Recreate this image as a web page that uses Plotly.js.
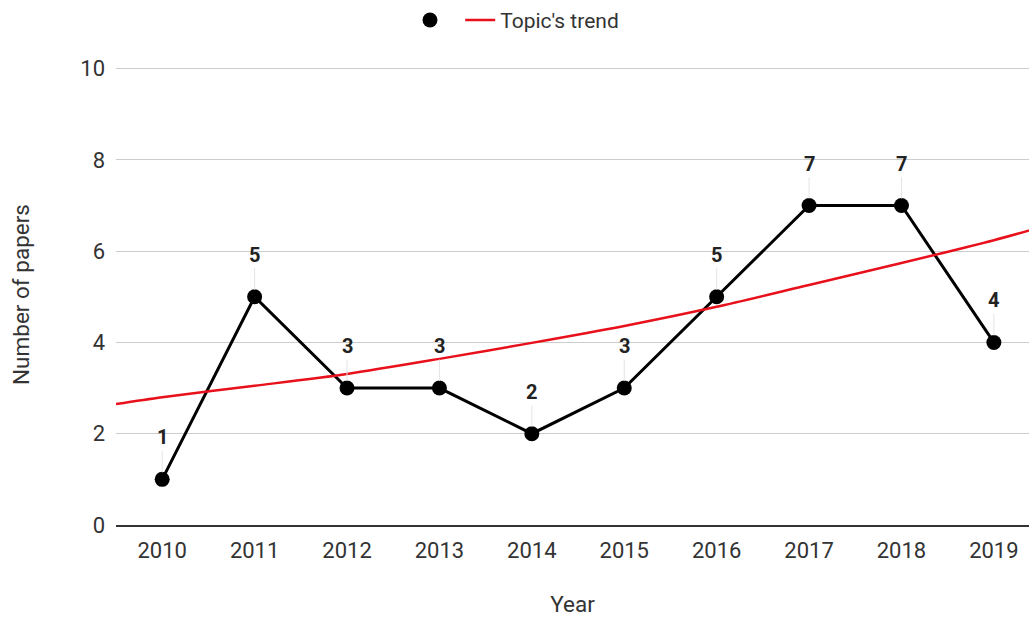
<!DOCTYPE html>
<html>
<head>
<meta charset="utf-8">
<script src="https://cdn.plot.ly/plotly-3.0.1.min.js"></script>
<style>
  html, body { margin: 0; padding: 0; background: #fff; }
  #chart { width: 1029px; height: 617px; }
</style>
</head>
<body>
<div id="chart"></div>
<script>
// Data
const years = [2010, 2011, 2012, 2013, 2014, 2015, 2016, 2017, 2018, 2019];
const papers = [1, 5, 3, 3, 2, 3, 5, 7, 7, 4];

// Trend line values (including the plot edges)
const trendYears = [2009.5, 2010, 2011, 2012, 2013, 2014, 2015, 2016, 2017, 2018, 2019, 2019.5];
const trendValues = [2.65, 2.80, 3.05, 3.31, 3.64, 3.99, 4.36, 4.78, 5.26, 5.74, 6.24, 6.52];

const yTicks = [0, 2, 4, 6, 8, 10];
const trendName = "Topic's trend";
const xTitle = 'Year';
const yTitle = 'Number of papers';

const FONT = 'Roboto, Arial, sans-serif';

const traces = [
  {
    x: years, y: papers, type: 'scatter', mode: 'lines',
    line: { color: '#000000', width: 3 },
    showlegend: false, hoverinfo: 'skip'
  },
  {
    x: years, y: papers, type: 'scatter', mode: 'markers',
    name: ' ',
    marker: { color: '#000000', size: 15 },
    showlegend: true
  },
  {
    x: trendYears, y: trendValues, type: 'scatter', mode: 'lines',
    name: trendName,
    line: { color: '#e8101a', width: 2.5, shape: 'spline', smoothing: 0.8 },
    showlegend: true
  }
];

const annotations = years.map((yr, i) => ({
  x: yr, y: papers[i], xref: 'x', yref: 'y',
  text: '<b>' + papers[i] + '</b>',
  showarrow: true, arrowhead: 0, arrowwidth: 1, arrowcolor: '#e4e4e4',
  ax: 0, ay: -42, standoff: 7,
  font: { family: FONT, size: 20, color: '#222222' }
}));

const layout = {
  width: 1029, height: 617,
  margin: { l: 116, r: 0, t: 64, b: 92, autoexpand: false },
  paper_bgcolor: '#ffffff', plot_bgcolor: '#ffffff',
  font: { family: FONT, size: 22, color: '#333333' },
  showlegend: true,
  legend: {
    orientation: 'h', x: 0.322, xanchor: 'left',
    yref: 'container', y: 0.967, yanchor: 'middle',
    font: { family: FONT, size: 21, color: '#333333' },
    itemclick: false, itemdoubleclick: false,
    traceorder: 'normal'
  },
  xaxis: {
    range: [2009.5, 2019.38],
    tickvals: years, ticktext: years.map(String),
    tickfont: { family: FONT, size: 22, color: '#333333' },
    showgrid: false, zeroline: false,
    showline: true, linecolor: '#333333', linewidth: 1.5,
    ticks: '', ticklabelstandoff: 5,
    title: { text: xTitle, font: { family: FONT, size: 22.5, color: '#333333' }, standoff: 36 },
    fixedrange: true
  },
  yaxis: {
    range: [0, 10.1],
    tickvals: yTicks,
    tickfont: { family: FONT, size: 22, color: '#333333' },
    showgrid: true, gridcolor: '#cccccc', gridwidth: 1,
    zeroline: false, showline: false,
    ticks: '', ticklabelstandoff: 10,
    title: { text: yTitle, font: { family: FONT, size: 22.5, color: '#333333' }, standoff: 44 },
    fixedrange: true
  },
  annotations: annotations
};

Plotly.newPlot('chart', traces, layout, { displayModeBar: false, staticPlot: true });
</script>
</body>
</html>
